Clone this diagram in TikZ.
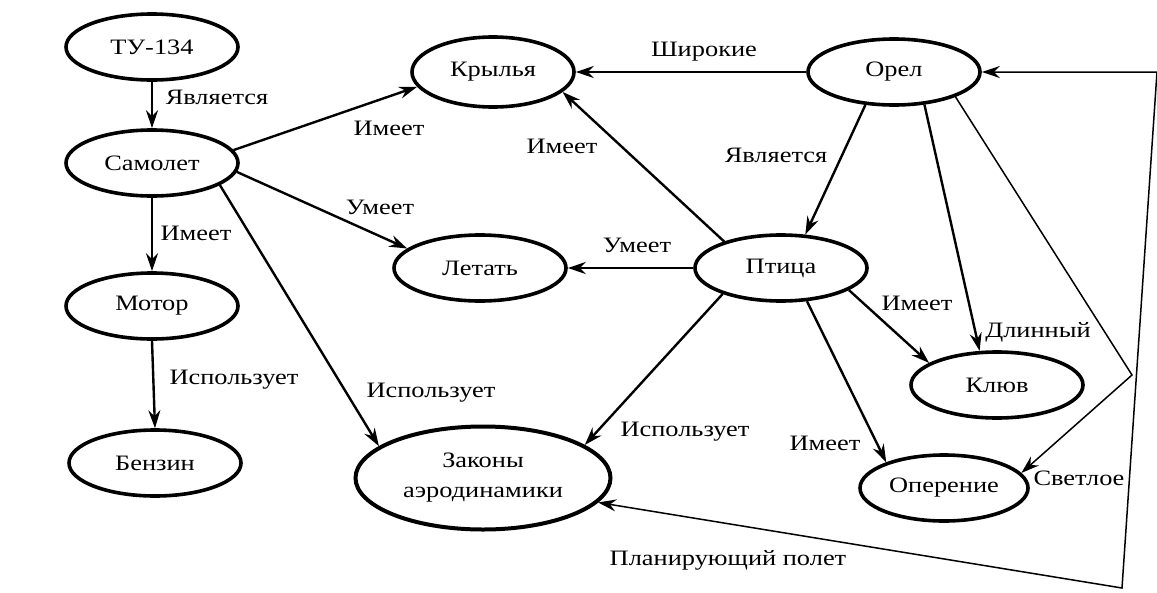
\documentclass[tikz,border=0pt]{standalone}
\usepackage{fontspec}
\setmainfont{Liberation Serif}[FakeStretch=1.2]
\usetikzlibrary{arrows.meta, shapes.geometric}

\begin{document}
\begin{tikzpicture}[x=1pt, y=-1pt,
  concept/.style={draw, ellipse, line width=3.6pt, inner sep=0pt, minimum width=172pt, minimum height=66pt, font=\fontsize{22}{30}\selectfont, align=center},
  rel/.style={font=\fontsize{22}{30}\selectfont, inner sep=1pt},
  tip/.style={Stealth[length=18pt, width=12pt, inset=6pt]},
  arrow/.style={-{Stealth[length=18pt, width=12pt, inset=6pt]}, line width=2.4pt},
  thinarrow/.style={-{Stealth[length=18pt, width=12pt, inset=6pt]}, line width=1.5pt},
]
\useasboundingbox (0,0) rectangle (1157,592);

% Concepts
\node[concept] (tu) at (152,47) {ТУ-134};
\node[concept] (samolet) at (152,163) {Самолет};
\node[concept] (motor) at (152,306) {Мотор};
\node[concept] (benzin) at (155,463) {Бензин};
\node[concept, minimum width=162pt, minimum height=70pt] (krylya) at (493,72) {Крылья};
\node[concept] (letat) at (480,268) {Летать};
\node[concept] (orel) at (894,72) {Орел};
\node[concept] (ptica) at (781,268) {Птица};
\node[concept, minimum width=255pt, minimum height=103pt, line width=4pt] (zakony) at (483,478) {Законы\\аэродинамики};
\node[concept] (kluv) at (997,385) {Клюв};
\node[concept, minimum width=168pt] (operenie) at (944,488) {Оперение};

% Corners of the thin lines
\coordinate (svet) at (1132,375);
\coordinate (topc) at (1157,72);
\coordinate (botc) at (1122,588);

% Left branch
\draw[arrow] (tu.south) -- (samolet.north);
\draw[arrow] (samolet.south) -- (motor.north);
\draw[arrow] (motor.south) -- (benzin.north);
\draw[arrow] (samolet.9) -- (krylya.191);
\draw[arrow] (samolet.-6) -- (letat.165);
\draw[arrow] (samolet.-18) -- (zakony.163);

% Right branch
\draw[arrow] (orel.west) -- (krylya.east);
\draw[arrow] (orel.-131) -- (ptica.54);
\draw[arrow] (orel.-47) -- (kluv.117);
\draw[arrow] (ptica.155) -- (krylya.-16);
\draw[arrow] (ptica.west) -- (letat.east);
\draw[arrow] (ptica.-156) -- (zakony.18);
\draw[arrow] (ptica.-18) -- (kluv.162);
\draw[arrow] (ptica.-52) -- (operenie.156);
\draw[thinarrow] (orel.-22) -- (svet) -- (operenie.11);
\draw[line width=1.5pt, {Stealth[length=18pt, width=12pt, inset=6pt]}-{Stealth[length=18pt, width=12pt, inset=6pt]}] (zakony.-12) -- (botc) -- (topc) -- (orel.east);

% Relation labels
\node[rel] (l1) at (217,97) {Является};
\node[rel] (l2) at (196,233) {Имеет};
\node[rel] (l3) at (234,380) {Использует};
\node[rel] (l4) at (389,128) {Имеет};
\node[rel] (l5) at (380,207) {Умеет};
\node[rel] (l6) at (431,393) {Использует};
\node[rel] (l7) at (704,52) {Широкие};
\node[rel] (l8) at (562,146) {Имеет};
\node[rel] (l9) at (776,155) {Является};
\node[rel] (l10) at (637,245) {Умеет};
\node[rel] (l11) at (685,432) {Использует};
\node[rel] (l12) at (917,303) {Имеет};
\node[rel] (l13) at (1038,332) {Длинный};
\node[rel] (l14) at (825,443) {Имеет};
\node[rel] (l15) at (1079,478) {Светлое};
\node[rel] (l16) at (728,560) {Планирующий полет};
\end{tikzpicture}
\end{document}
